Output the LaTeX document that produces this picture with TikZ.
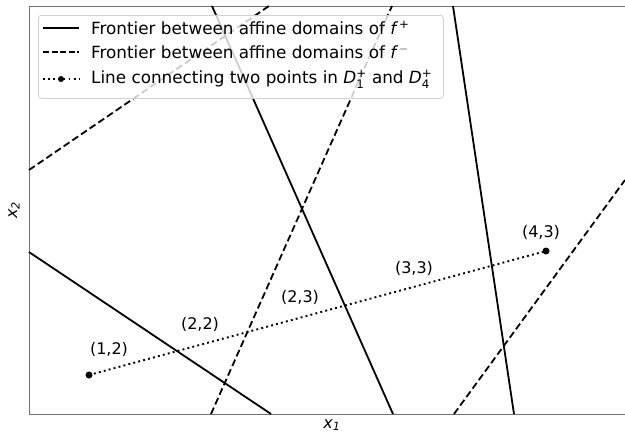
\documentclass[tikz,border=0pt]{standalone}
\usepackage{amsmath}
\usepackage{fontspec}
\setmainfont{DejaVu Sans}
\usepackage{tikz}
\usetikzlibrary{positioning}

\begin{document}
\begin{tikzpicture}[
  x=1pt, y=-1pt,
  font=\fontsize{16}{19}\selectfont,
  spine/.style={draw=black!55,line width=1pt},
  fplus/.style={line width=1.8pt,line cap=butt},
  fminus/.style={line width=1.8pt,dash pattern=on 7pt off 3.5pt},
  seg/.style={line width=1.9pt,dash pattern=on 1.9pt off 3.2pt},
  pt/.style={circle,fill=black,inner sep=0pt,minimum size=7pt},
  lbl/.style={inner sep=1pt},
  legbox/.style={draw=black!18,rounded corners=3pt,fill=white,fill opacity=0.8,
                 line width=0.8pt},
  legtxt/.style={anchor=west,inner sep=0pt,font=\fontsize{16.8}{19}\selectfont}
]
\useasboundingbox (0,0) rectangle (625,434);

%% ---- frame of the axes --------------------------------------------------
\coordinate (tl) at (29,6);
\coordinate (bl) at (29,414);
\coordinate (tr) at (625,6);
\coordinate (br) at (625,414);
\draw[spine] (tr) -- (tl) -- (bl) -- (br);
\node (xone) at (332,425) {\itshape x\textsubscript{1}};
\node[rotate=90] (xtwo) at (14,210) {\itshape x\textsubscript{2}};

%% ---- frontiers of f+ (solid) ---------------------------------------------
\coordinate (pa) at (29,252);  \coordinate (pb) at (271,414);
\coordinate (pc) at (212,6);   \coordinate (pd) at (393,414);
\coordinate (pe) at (453,6);   \coordinate (pf) at (514,414);
\foreach \a/\b in {pa/pb, pc/pd, pe/pf} \draw[fplus] (\a) -- (\b);

%% ---- frontiers of f- (dashed) --------------------------------------------
\coordinate (ma) at (29,170);  \coordinate (mb) at (269,6);
\coordinate (mc) at (211,414); \coordinate (md) at (392,6);
\coordinate (me) at (454,414); \coordinate (mf) at (625,180);
\foreach \a/\b in {ma/mb, mc/md, me/mf} \draw[fminus] (\a) -- (\b);

%% ---- segment from D1+ to D4+ ---------------------------------------------
\node[pt] (p1) at (89,375) {};
\node[pt] (p4) at (546,251) {};
\draw[seg] (p1.center) -- (p4.center);

\node[lbl] (l12) at (109,349) {(1,2)};
\node[lbl] (l22) at (200,324) {(2,2)};
\node[lbl] (l23) at (300,297) {(2,3)};
\node[lbl] (l33) at (414,268) {(3,3)};
\node[lbl] (l43) at (541,232) {(4,3)};

%% ---- legend --------------------------------------------------------------
\node[legbox,minimum width=405pt,minimum height=83pt,anchor=north west]
  (leg) at (38,15) {};
\coordinate (s1a) at (43,28); \coordinate (s1b) at (79,28);
\coordinate (s2a) at (43,52); \coordinate (s2b) at (79,52);
\coordinate (s3a) at (43,79); \coordinate (s3b) at (79,79);
\draw[fplus]  (s1a) -- (s1b);
\draw[fminus,dash pattern=on 6pt off 2.6pt] (s2a) -- (s2b);
\draw[seg]    (s3a) -- (s3b);
\node[pt,minimum size=6pt] (s3m) at (61,79) {};
\node[legtxt] (t1) at (91,28)
  {Frontier between affine domains of {\itshape f}\,$^{\text{+}}$};
\node[legtxt] (t2) at (91,52)
  {Frontier between affine domains of {\itshape f}\,$^{-}$};
\node[legtxt] (t3) at (91,79)
  {Line connecting two points in {\itshape D}$_{\text{1}}^{\text{+}}$\ and {\itshape D}$_{\text{4}}^{\text{+}}$};
\end{tikzpicture}
\end{document}
